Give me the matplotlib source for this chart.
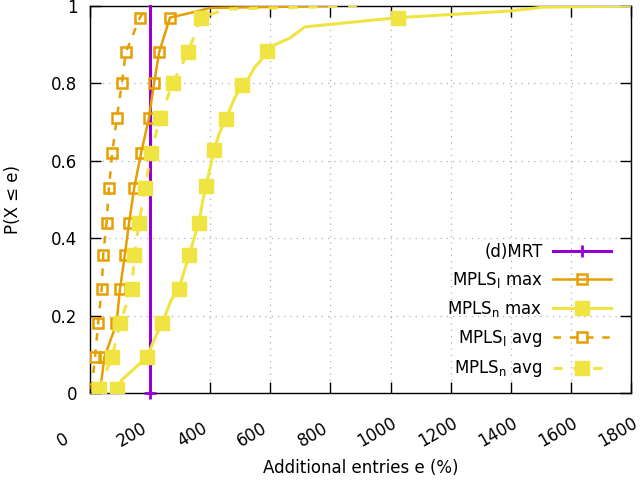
import matplotlib
matplotlib.use("Agg")
import matplotlib.pyplot as plt
from matplotlib.transforms import ScaledTranslation

plt.rcParams['font.family'] = ['DejaVu Sans']
plt.rcParams['mathtext.fontset'] = 'dejavusans'

# ---- data ----
mrt_x = [200, 200]
mrt_y = [0.0, 1.0]
mrt_marks = [0]

lmax_x = [25, 37, 48, 70, 88, 100, 116, 130, 147, 170, 196, 213, 230, 266, 360, 399, 800]
lmax_y = [0.01, 0.026, 0.093, 0.14, 0.18, 0.27, 0.357, 0.44, 0.53, 0.62, 0.71, 0.80, 0.88, 0.97, 0.987, 0.995, 1.0]
lmax_marks = [0, 2, 4, 5, 6, 7, 8, 9, 10, 11, 12, 13]

nmax_x = [90, 106, 190, 215, 240, 270, 296, 330, 362, 376, 386, 413, 430, 452, 480, 506, 527, 549, 565, 588, 615, 665, 715, 1025, 1397, 1507, 1800]
nmax_y = [0.01, 0.034, 0.093, 0.14, 0.18, 0.24, 0.27, 0.357, 0.44, 0.50, 0.535, 0.628, 0.67, 0.708, 0.76, 0.796, 0.813, 0.843, 0.856, 0.884, 0.90, 0.917, 0.946, 0.97, 0.987, 0.997, 1.0]
nmax_marks = [0, 2, 4, 6, 7, 8, 10, 11, 13, 15, 19, 23]

lavg_x = [5, 17, 27, 39, 44, 55, 63, 74, 89, 106, 119, 166, 193]
lavg_y = [0.01, 0.093, 0.18, 0.27, 0.357, 0.44, 0.53, 0.62, 0.71, 0.80, 0.88, 0.97, 1.0]
lavg_marks = list(range(12))

navg_x = [30, 73, 100, 139, 148, 163, 183, 203, 233, 275, 326, 369, 455, 888]
navg_y = [0.01, 0.093, 0.18, 0.27, 0.357, 0.44, 0.53, 0.62, 0.71, 0.80, 0.88, 0.97, 0.992, 1.0]
navg_marks = list(range(12))

x_ticks = [0, 200, 400, 600, 800, 1000, 1200, 1400, 1600, 1800]
y_ticks = [0, 0.2, 0.4, 0.6, 0.8, 1]
y_ticklabels = ['0', '0.2', '0.4', '0.6', '0.8', '1']

purple = '#9400d3'
orange = '#e69f00'
yellow = '#f0e442'

fig = plt.figure(figsize=(6.4, 4.82), dpi=100)
ax = fig.add_axes([90/640, (482-393)/482, (631-90)/640, (393-6)/482])

ax.plot(mrt_x, mrt_y, color=purple, lw=2.2, marker='+', ms=9, mew=2,
        markevery=mrt_marks, label='(d)MRT', clip_on=False, zorder=3)
ax.plot(lmax_x, lmax_y, color=orange, lw=1.8, marker='s', ms=7.5, mew=1.8,
        mfc='none', markevery=lmax_marks, label=r'MPLS$_\mathregular{l}$ max', zorder=4)
ax.plot(nmax_x, nmax_y, color=yellow, lw=2.2, marker='s', ms=9.5,
        markevery=nmax_marks, label=r'MPLS$_\mathregular{n}$ max', zorder=5)
ax.plot(lavg_x, lavg_y, color=orange, lw=1.8, ls=(0, (3, 3.5)), marker='s', ms=7.5, mew=1.8,
        mfc='none', markevery=lavg_marks, label=r'MPLS$_\mathregular{l}$ avg', zorder=6)
ax.plot(navg_x, navg_y, color=yellow, lw=2.2, ls=(0, (3, 3.5)), marker='s', ms=9.5,
        markevery=navg_marks, label=r'MPLS$_\mathregular{n}$ avg', zorder=7)

ax.set_xlim(0, 1800)
ax.set_ylim(0, 1)
ax.set_yticks(y_ticks)
ax.set_yticklabels(y_ticklabels)
ax.set_xticks(x_ticks)
ax.tick_params(direction='in', length=8, width=1, top=True, right=True,
               labelsize=12, pad=9, colors='black')
ax.set_xticklabels([str(v) for v in x_ticks], rotation=30, ha='left', va='top',
                   rotation_mode='anchor')
offset = ScaledTranslation(-0.36, -0.295, fig.dpi_scale_trans)
for lab in ax.get_xticklabels():
    lab.set_transform(lab.get_transform() + offset)

ax.grid(True, color='#b0b0b0', linestyle=(0, (1, 4)), linewidth=0.9)
for s in ax.spines.values():
    s.set_linewidth(1)
    s.set_color('black')

ax.set_xlabel('Additional entries e (%)', fontsize=12, labelpad=6)
ax.set_ylabel('P(X ≤ e)', fontsize=12)
ax.yaxis.set_label_coords(-0.125, 0.5)

leg = ax.legend(loc='lower right', bbox_to_anchor=(0.963, 0.035), frameon=False,
                markerfirst=False, fontsize=12, handlelength=3.5, handletextpad=0.6,
                labelspacing=0.55, borderpad=0, borderaxespad=0, numpoints=1)

fig.savefig('out.png', dpi=100)
